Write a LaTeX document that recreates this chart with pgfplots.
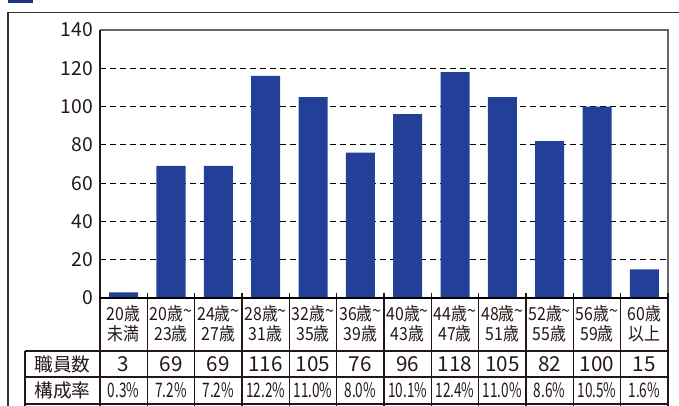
\documentclass[border=0pt]{standalone}
\usepackage{fontspec}
\setmainfont{Noto Sans CJK JP}
\newfontfamily\labfont[FakeStretch=0.88]{Noto Sans CJK JP}
\newfontfamily\pctfont[FakeStretch=0.68]{Noto Sans CJK JP}
\usepackage{pgfplots}
\pgfplotsset{compat=1.18}
\definecolor{barblue}{RGB}{34,64,152}
\definecolor{ink}{RGB}{35,24,21}
\definecolor{titleblue}{RGB}{30,50,135}
\newcommand{\tl}{\raisebox{.3ex}{\textasciitilde}}
\begin{document}
\begin{tikzpicture}
\useasboundingbox (0,0) rectangle (509.25pt,-303.75pt);
\clip (0,0) rectangle (509.25pt,-303.75pt);
\begin{axis}[
  at={(75pt,-223.5pt)}, anchor=south west,
  scale only axis, width=426pt, height=201pt,
  xmin=-0.5, xmax=11.5, ymin=0, ymax=140,
  ybar, bar width=21.75pt,
  xtick={0,...,11},
  xticklabels={{20歳\\未満},{20歳\tl\\23歳},{24歳\tl\\27歳},{28歳\tl\\31歳},{32歳\tl\\35歳},{36歳\tl\\39歳},{40歳\tl\\43歳},{44歳\tl\\47歳},{48歳\tl\\51歳},{52歳\tl\\55歳},{56歳\tl\\59歳},{60歳\\以上}},
  xticklabel style={font=\labfont\fontsize{13.5}{15}\selectfont, align=center, anchor=center, yshift=-19.5pt, text=ink, inner sep=0pt},
  ytick={0,20,...,140},
  yticklabel style={font=\fontsize{14.5}{15}\selectfont, anchor=east, inner sep=0pt, xshift=-5.25pt, text=ink},
  /pgf/number format/assume math mode=true,
  major tick length=0pt,
  axis line style={draw=none},
  extra y ticks={20,40,...,120},
  extra y tick labels={},
  extra y tick style={grid=major},
  major grid style={black, line width=0.9pt, dash pattern=on 4.5pt off 3pt},
]
\addplot[fill=barblue, draw=none] coordinates {
  (0,3) (1,69) (2,69) (3,116) (4,105) (5,76) (6,96) (7,118) (8,105) (9,82) (10,100) (11,15)
};
\end{axis}
\begin{scope}[x=0.75pt,y=-0.75pt]
  % title fragment
  \fill[titleblue] (8,-25) rectangle (33,2.5);
  \node[anchor=base west, inner sep=0pt, text=titleblue, font=\fontsize{21}{22}\selectfont] at (50,-3) {職員数の年齢別構成};
  % outer frame
  \draw[line width=1.4pt, color=black!80] (8,410) -- (8,12.5) -- (690,12.5);
  % plot frame top/right
  \draw[line width=0.8pt, color=black!60] (100,30) -- (668,30) -- (668,298);
  % left axis
  \draw[line width=1.1pt, color=ink] (100,30) -- (100,298);
  % table verticals
  \foreach \k in {0,...,12} {
    \draw[line width=0.9pt, color=ink] ({100+\k*47.3333},293) -- ({100+\k*47.3333},410);
  }
  \draw[line width=0.9pt, color=ink] (25,351) -- (25,410);
  \foreach \yy in {351,377,404} {
    \draw[line width=0.9pt, color=ink] (25,\yy) -- (668,\yy);
  }
  % bottom axis
  \draw[line width=1.6pt, color=black] (99,298) -- (668,298);
  % table text
  \node[text=ink, font=\fontsize{14}{15}\selectfont] at (62.5,364) {職員数};
  \node[text=ink, font=\fontsize{14}{15}\selectfont] at (62.5,390.5) {構成率};
  \foreach \v [count=\i from 0] in {3,69,69,116,105,76,96,118,105,82,100,15} {
    \node[text=ink, font=\fontsize{15.5}{16}\selectfont] at ({123.667+\i*47.3333},364) {\v};
  }
  \foreach \v [count=\i from 0] in {0.3,7.2,7.2,12.2,11.0,8.0,10.1,12.4,11.0,8.6,10.5,1.6} {
    \node[text=ink, font=\pctfont\fontsize{15}{16}\selectfont] at ({123.667+\i*47.3333},390.5) {\v\%};
  }
\end{scope}
\end{tikzpicture}
\end{document}
